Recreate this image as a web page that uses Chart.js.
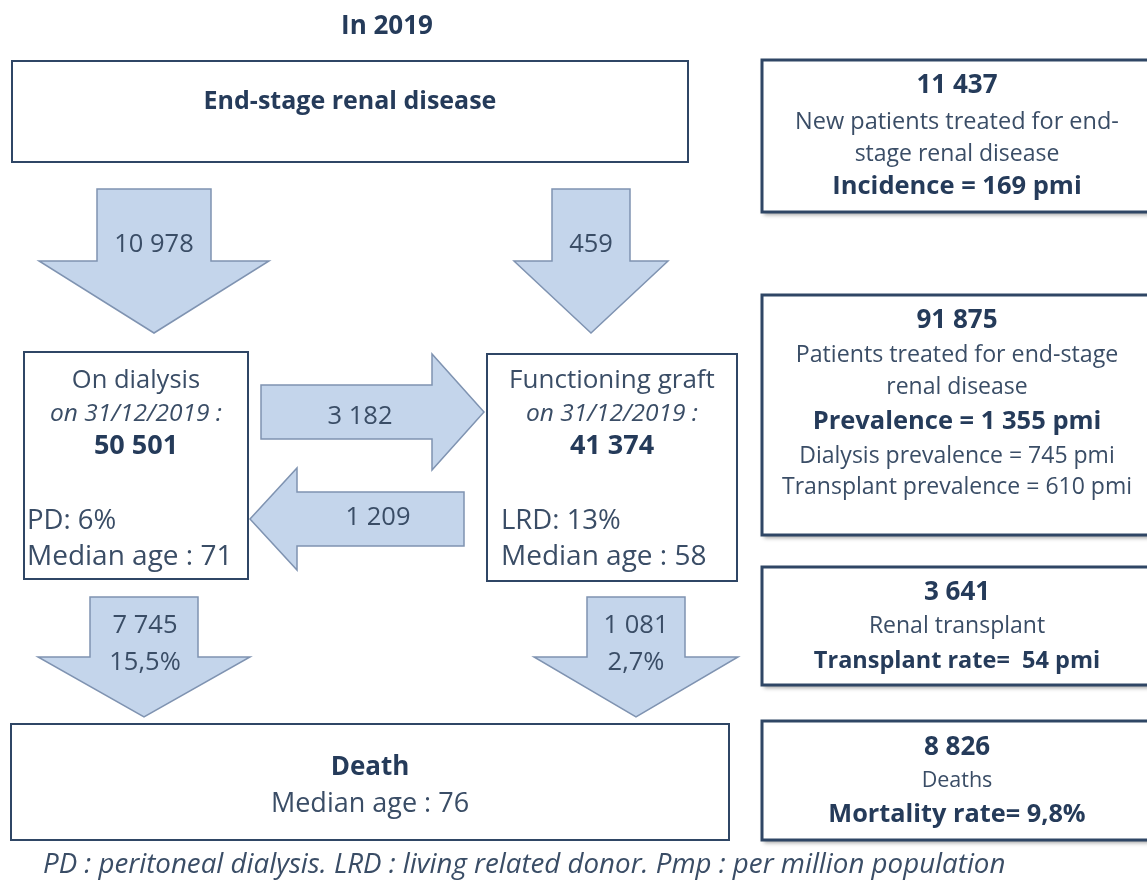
<!DOCTYPE html>
<html>
<head>
<meta charset="utf-8">
<script src="https://cdn.jsdelivr.net/npm/chart.js@4"></script>
<style>
  html, body { margin: 0; padding: 0; background: #fff; }
  #wrap { width: 1147px; height: 882px; position: relative; }
</style>
</head>
<body>
<div id="wrap"><canvas id="esrd"></canvas></div>
<script>
// --- data (year 2019) ---
const year = 2019;
const stockDate = '31/12/2019';
const flowNames = ['ESRD to dialysis', 'ESRD to graft', 'dialysis to graft', 'graft to dialysis', 'dialysis to death', 'graft to death'];
const flowValues = [10978, 459, 3182, 1209, 7745, 1081];
const deathRates = [15.5, 2.7];            // % of dialysis / graft stock
const stockNames = ['On dialysis', 'Functioning graft'];
const stockValues = [50501, 41374];
const stockShareLabels = ['PD', 'LRD'];
const stockShares = [6, 13];               // %
const medianAges = [71, 58, 76];           // dialysis, graft, death
const summaryCounts = [11437, 91875, 3641, 8826];
const incidencePmi = 169;
const prevalencePmi = [1355, 745, 610];    // total, dialysis, transplant
const transplantRatePmi = 54;
const mortalityRate = 9.8;

// --- helpers ---
const fmt = n => String(n).replace(/\B(?=(\d{3})+(?!\d))/g, ' ');
const dec = n => String(n).replace('.', ',');

const FONT = '"Open Sans", Lato, sans-serif';
const INK = '#253b5a';
const INK_LIGHT = '#3a4d66';
const ARROW_FILL = '#c4d5eb';
const ARROW_LINE = '#7f93b1';
const BOX_LINE = '#2f4665';

// layout of the diagram, in chart units (x: 0..1147, y: 0..882 downwards)
const layout = {
  topBox: [12, 61, 688, 162],
  dialysisBox: [24, 352, 248, 579],
  graftBox: [487, 354, 737, 581],
  deathBox: [11, 724, 729, 840],
  rightBoxes: [[762, 60, 1152, 212], [762, 295, 1152, 535], [762, 567, 1152, 685], [762, 721, 1152, 840]],
  downArrows: [
    { cx: 154, half: 57, head: 115, top: 189, neck: 261, tip: 333 },
    { cx: 591, half: 39, head: 77, top: 189, neck: 261, tip: 333 },
    null, null,
    { cx: 144, half: 54, head: 106, top: 597, neck: 657, tip: 717 },
    { cx: 636, half: 49, head: 102, top: 597, neck: 657, tip: 717 }
  ],
  sideArrows: [
    null, null,
    { from: 261, neck: 432, tip: 484, cy: 412, half: 27, head: 58 },
    { from: 464, neck: 297, tip: 250, cy: 519, half: 27, head: 51 }
  ]
};

const diagram = {
  id: 'diagram',
  afterDraw(chart) {
    const ctx = chart.ctx;
    const sx = chart.scales.x, sy = chart.scales.y;
    const X = v => sx.getPixelForValue(v);
    const Y = v => sy.getPixelForValue(v);

    function text(str, x, y, size, opts = {}) {
      ctx.save();
      ctx.font = (opts.italic ? 'italic ' : '') + (opts.bold ? 'bold ' : '') + size + 'px ' + FONT;
      ctx.fillStyle = opts.bold ? INK : INK_LIGHT;
      ctx.textAlign = opts.align || 'center';
      ctx.textBaseline = 'middle';
      ctx.fillText(str, X(x), Y(y));
      ctx.restore();
    }

    function box(r, lw, shadow) {
      ctx.save();
      if (shadow) {
        ctx.shadowColor = 'rgba(0,0,0,0.35)';
        ctx.shadowOffsetX = 2;
        ctx.shadowOffsetY = 3;
        ctx.shadowBlur = 4;
      }
      ctx.fillStyle = '#fff';
      ctx.fillRect(X(r[0]), Y(r[1]), X(r[2]) - X(r[0]), Y(r[3]) - Y(r[1]));
      ctx.restore();
      ctx.save();
      ctx.strokeStyle = BOX_LINE;
      ctx.lineWidth = lw;
      ctx.strokeRect(X(r[0]), Y(r[1]), X(r[2]) - X(r[0]), Y(r[3]) - Y(r[1]));
      ctx.restore();
    }

    function poly(pts) {
      ctx.save();
      ctx.beginPath();
      pts.forEach((p, i) => i ? ctx.lineTo(X(p[0]), Y(p[1])) : ctx.moveTo(X(p[0]), Y(p[1])));
      ctx.closePath();
      ctx.fillStyle = ARROW_FILL;
      ctx.fill();
      ctx.strokeStyle = ARROW_LINE;
      ctx.lineWidth = 1.5;
      ctx.stroke();
      ctx.restore();
    }

    function downArrow(a) {
      poly([[a.cx - a.half, a.top], [a.cx + a.half, a.top], [a.cx + a.half, a.neck], [a.cx + a.head, a.neck],
            [a.cx, a.tip], [a.cx - a.head, a.neck], [a.cx - a.half, a.neck]]);
    }

    function sideArrow(a) {
      poly([[a.from, a.cy - a.half], [a.neck, a.cy - a.half], [a.neck, a.cy - a.head], [a.tip, a.cy],
            [a.neck, a.cy + a.head], [a.neck, a.cy + a.half], [a.from, a.cy + a.half]]);
    }

    // title
    text('In ' + year, 387, 27, 26, { bold: true });

    // main boxes
    box(layout.topBox, 2);
    text('End-stage renal disease', 350, 102, 25, { bold: true });
    box(layout.dialysisBox, 2);
    box(layout.graftBox, 2);
    box(layout.deathBox, 2);

    // arrows carrying the flows
    flowValues.forEach((v, i) => {
      if (layout.downArrows[i]) downArrow(layout.downArrows[i]);
      if (layout.sideArrows[i]) sideArrow(layout.sideArrows[i]);
    });
    const fs = 25.5;
    text(fmt(flowValues[0]), 154, 245, fs);
    text(fmt(flowValues[1]), 591, 245, fs);
    text(fmt(flowValues[2]), 360, 417, fs);
    text(fmt(flowValues[3]), 378, 518, fs);
    text(fmt(flowValues[4]), 145, 626, fs);
    text(dec(deathRates[0]) + '%', 145, 663, fs);
    text(fmt(flowValues[5]), 636, 626, fs);
    text(dec(deathRates[1]) + '%', 636, 663, fs);

    // stock boxes
    const stockX = [136, 612], stockLeft = [27, 501];
    stockValues.forEach((v, i) => {
      text(stockNames[i], stockX[i], 381, i ? 26 : 25.5);
      text('on ' + stockDate + ' :', stockX[i], 414, 24.5, { italic: true });
      text(fmt(v), stockX[i], 446, 27, { bold: true });
      text(stockShareLabels[i] + ': ' + stockShares[i] + '%', stockLeft[i], 521, 27.5, { align: 'left' });
      text('Median age : ' + medianAges[i], stockLeft[i], 557, 28, { align: 'left' });
    });

    text('Death', 370, 768, 26, { bold: true });
    text('Median age : ' + medianAges[2], 370, 804, 27);

    // right-hand summary boxes
    layout.rightBoxes.forEach(r => box(r, 3, true));
    const cx = 957;
    text(fmt(summaryCounts[0]), cx, 86, 26, { bold: true });
    text('New patients treated for end-', cx, 122, 23.5);
    text('stage renal disease', cx, 154, 23);
    text('Incidence = ' + incidencePmi + ' pmi', cx, 187, 25.5, { bold: true });

    text(fmt(summaryCounts[1]), cx, 321, 26, { bold: true });
    text('Patients treated for end-stage', cx, 355, 23.2);
    text('renal disease', cx, 387, 23);
    text('Prevalence = ' + fmt(prevalencePmi[0]) + ' pmi', cx, 422, 25.5, { bold: true });
    text('Dialysis prevalence = ' + prevalencePmi[1] + ' pmi', cx, 456, 23);
    text('Transplant prevalence = ' + prevalencePmi[2] + ' pmi', cx, 487, 23);

    text(fmt(summaryCounts[2]), cx, 593, 26, { bold: true });
    text('Renal transplant', cx, 626, 23);
    text('Transplant rate=  ' + transplantRatePmi + ' pmi', cx, 661, 23.5, { bold: true });

    text(fmt(summaryCounts[3]), cx, 748, 26, { bold: true });
    text('Deaths', cx, 781, 21.5);
    text('Mortality rate= ' + dec(mortalityRate) + '%', cx, 815, 25.3, { bold: true });

    // footnote
    text('PD : peritoneal dialysis. LRD : living related donor. Pmp : per million population', 43, 865, 27.7, { italic: true, align: 'left' });
  }
};

new Chart(document.getElementById('esrd'), {
  type: 'scatter',
  data: {
    datasets: [{
      label: 'flows',
      data: flowNames.map((n, i) => ({ x: 0, y: flowValues[i] })),
      pointRadius: 0,
      showLine: false
    }]
  },
  options: {
    responsive: true,
    maintainAspectRatio: false,
    animation: false,
    events: [],
    layout: { padding: 0 },
    plugins: { legend: { display: false }, tooltip: { enabled: false } },
    scales: {
      x: { type: 'linear', min: 0, max: 1147, display: false },
      y: { type: 'linear', min: 0, max: 882, reverse: true, display: false }
    }
  },
  plugins: [diagram]
});
</script>
</body>
</html>
